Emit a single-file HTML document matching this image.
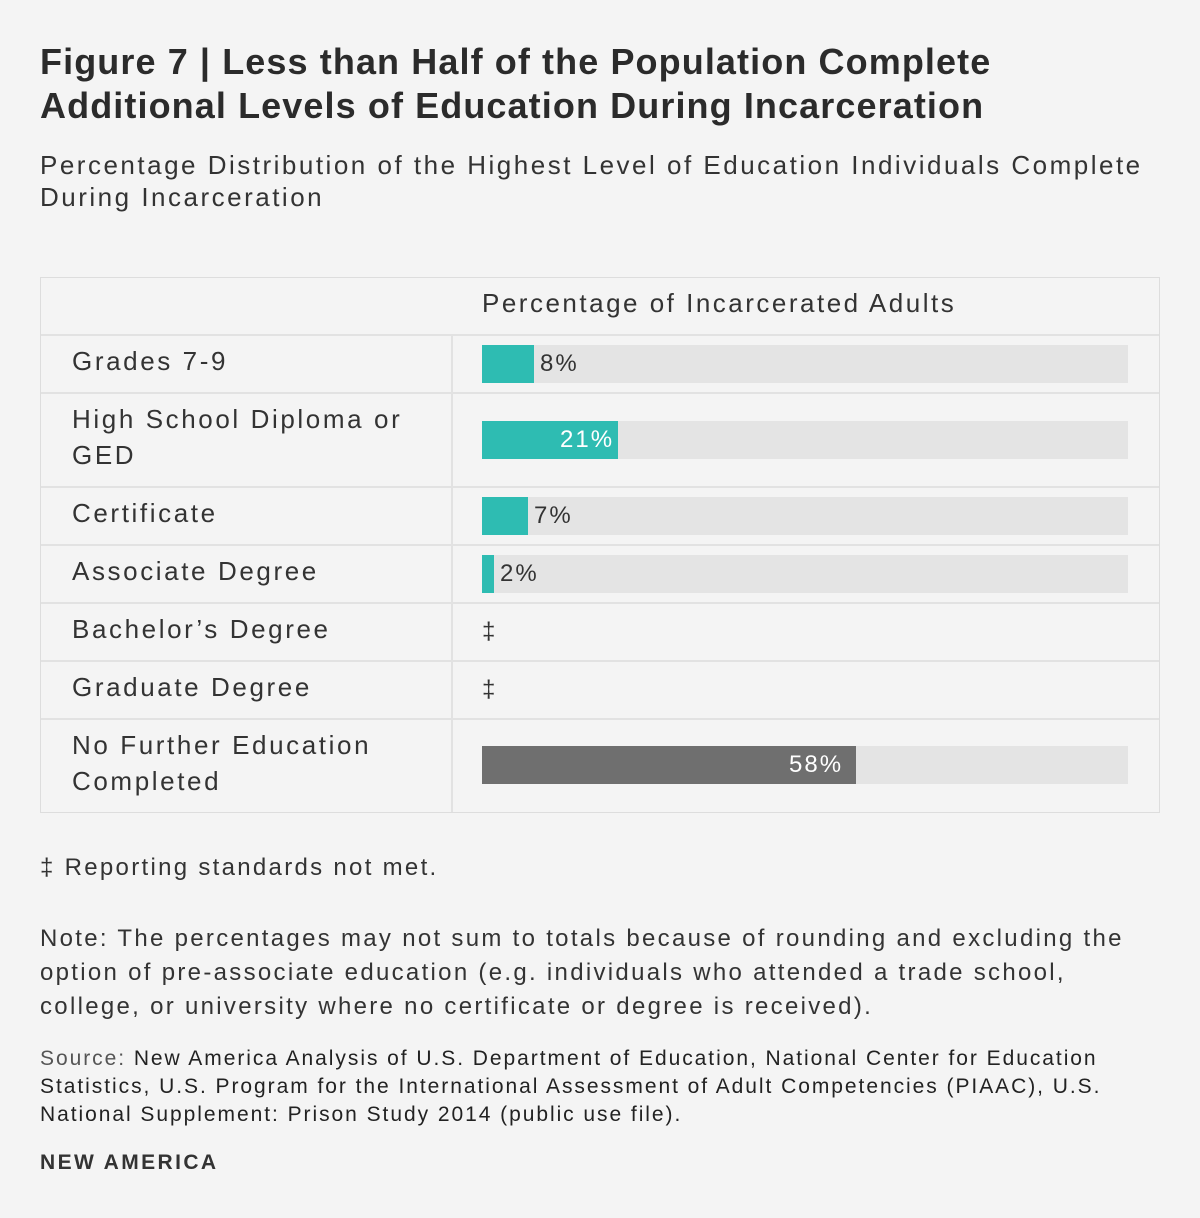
<!DOCTYPE html>
<html><head><meta charset="utf-8"><style>
body{margin:0;width:1200px;height:1218px;background:#f4f4f4;font-family:"Liberation Sans",sans-serif;color:#333;position:relative;overflow:hidden}
.a{position:absolute;white-space:nowrap}
.t{font-weight:bold;font-size:36px;color:#2b2b2b;left:40px;letter-spacing:1.1px}
.s{font-size:26px;left:40px;letter-spacing:2.5px;color:#333}
.tbl{position:absolute;left:40px;top:277px;width:1120px;height:536px;border:1px solid #ddd;box-sizing:border-box}
.h{position:absolute;left:0;width:100%;border-top:2px solid #e2e2e2}
.v{position:absolute;left:410px;top:57px;bottom:0;border-left:2px solid #e2e2e2}
.lab{font-size:26px;left:72px;letter-spacing:2.6px;color:#333}
.tr{position:absolute;left:482px;width:646px;height:38px;background:#e4e4e4}
.b{position:absolute;left:0;top:0;height:38px}
.pc{font-size:24px;position:absolute;top:5px;letter-spacing:2px}
</style></head><body>
<div class="a t" style="top:41px">Figure 7 | Less than Half of the Population Complete</div>
<div class="a t" style="top:85px">Additional Levels of Education During Incarceration</div>
<div class="a s" style="top:150px">Percentage Distribution of the Highest Level of Education Individuals Complete</div>
<div class="a s" style="top:182px">During Incarceration</div>
<div class="tbl">
<div class="h" style="top:56px"></div><div class="h" style="top:114px"></div><div class="h" style="top:208px"></div><div class="h" style="top:266px"></div><div class="h" style="top:324px"></div><div class="h" style="top:382px"></div><div class="h" style="top:440px"></div>
<div class="v"></div>
</div>
<div class="a" style="left:482px;top:288px;font-size:26px;letter-spacing:2.5px">Percentage of Incarcerated Adults</div>
<div class="a lab" style="top:346px">Grades 7-9</div>
<div class="a lab" style="top:404px">High School Diploma or</div>
<div class="a lab" style="top:440px">GED</div>
<div class="a lab" style="top:498px">Certificate</div>
<div class="a lab" style="top:556px">Associate Degree</div>
<div class="a lab" style="top:614px">Bachelor’s Degree</div>
<div class="a lab" style="top:672px">Graduate Degree</div>
<div class="a lab" style="top:730px">No Further Education</div>
<div class="a lab" style="top:766px">Completed</div>
<div class="tr" style="top:345px"><div class="b" style="width:52px;background:#2ebcb2"></div><span class="pc" style="left:58px">8%</span></div>
<div class="tr" style="top:421px"><div class="b" style="width:136px;background:#2ebcb2"></div><span class="pc" style="left:78px;color:#fff">21%</span></div>
<div class="tr" style="top:497px"><div class="b" style="width:46px;background:#2ebcb2"></div><span class="pc" style="left:52px">7%</span></div>
<div class="tr" style="top:555px"><div class="b" style="width:12px;background:#2ebcb2"></div><span class="pc" style="left:18px">2%</span></div>
<div class="a" style="left:482px;top:618px;font-size:24px">‡</div>
<div class="a" style="left:482px;top:676px;font-size:24px">‡</div>
<div class="tr" style="top:746px"><div class="b" style="width:374px;background:#6f6f6f"></div><span class="pc" style="left:307px;color:#fff">58%</span></div>
<div class="a" style="left:40px;top:854px;font-size:24px;letter-spacing:2.3px">‡ Reporting standards not met.</div>
<div class="a" style="left:40px;top:922px;font-size:24px;line-height:34px;letter-spacing:2.3px">Note: The percentages may not sum to totals because of rounding and excluding the<br>option of pre-associate education (e.g. individuals who attended a trade school,<br>college, or university where no certificate or degree is received).</div>
<div class="a" style="left:40px;top:1045px;font-size:21px;line-height:28px;color:#222;letter-spacing:1.95px"><span style="color:#555">Source:</span> New America Analysis of U.S. Department of Education, National Center for Education<br>Statistics, U.S. Program for the International Assessment of Adult Competencies (PIAAC), U.S.<br>National Supplement: Prison Study 2014 (public use file).</div>
<div class="a" style="left:40px;top:1151px;font-size:21px;font-weight:bold;color:#333;letter-spacing:2.4px">NEW AMERICA</div>
</body></html>
